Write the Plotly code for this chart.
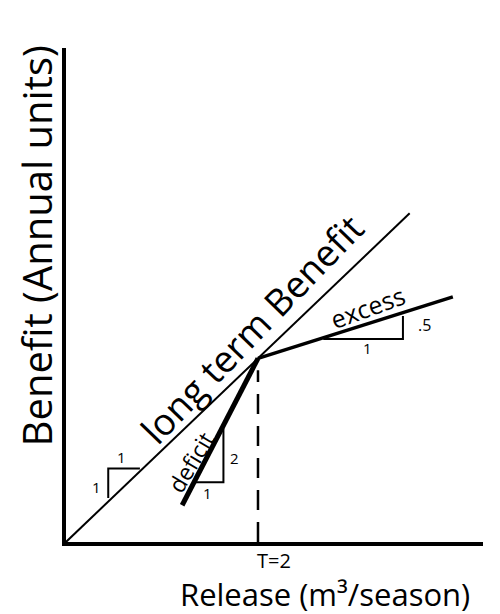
import plotly.graph_objects as go

# ---- data ----
T_value = 2
release_long = [0, 3.58]
benefit_long = [0, 3.58]
release_deficit = [1.21, 2]
benefit_deficit = [0.40, 2]
release_excess = [2, 4.03]
benefit_excess = [2, 2.67]
release_target = [2, 2]
benefit_target = [0, 1.87]

tri_long_x = [0.44, 0.44, 0.77]
tri_long_y = [0.48, 0.80, 0.80]
tri_def_x = [1.34, 1.64, 1.64]
tri_def_y = [0.65, 0.65, 1.24]
tri_exc_x = [2.68, 3.51, 3.51]
tri_exc_y = [2.21, 2.21, 2.46]

tick_vals = [T_value]
tick_text = ["T=2"]

x_title = "Release (m³/season)"
y_title = "Benefit (Annual units)"

FONT = "Open Sans"
BLACK = "black"

fig = go.Figure()

def line(x, y, w, dash="solid"):
    fig.add_trace(go.Scatter(x=x, y=y, mode="lines",
                             line=dict(color=BLACK, width=w, dash=dash),
                             showlegend=False, hoverinfo="skip"))

line(release_long, benefit_long, 2)
line(release_deficit, benefit_deficit, 5)
line(release_excess, benefit_excess, 3.5)
line(release_target, benefit_target, 2.5, dash="20px,12px")
line(tri_long_x, tri_long_y, 2)
line(tri_def_x, tri_def_y, 2)
line(tri_exc_x, tri_exc_y, 2)

def ann(x, y, text, size, angle=0, xref="x", yref="y"):
    fig.add_annotation(x=x, y=y, text=text, showarrow=False, textangle=angle,
                       xref=xref, yref=yref,
                       xanchor="center", yanchor="middle",
                       font=dict(family=FONT, size=size, color=BLACK))

ann(1.93, 2.33, "long term Benefit", 37, -46)
ann(1.30, 0.87, "deficit", 23, -59)
ann(3.14, 2.56, "excess", 25, -20)
ann(0.32, 0.60, "1", 15)
ann(0.58, 0.93, "1", 15)
ann(1.76, 0.92, "2", 15)
ann(1.47, 0.53, "1", 15)
ann(3.14, 2.11, "1", 15)
ann(3.73, 2.36, ".5", 16)

# axis titles placed as in the sketch (offset from axis centres)
ann(0.62, -0.106, x_title, 31, 0, "paper", "paper")
ann(-0.07, 0.60, y_title, 40, -90, "paper", "paper")

# the page adds an 8px body margin, so the figure is 8px smaller than the window
fig.update_layout(
    width=492, height=606,
    margin=dict(l=58, r=17, t=40, b=72, autoexpand=False),
    paper_bgcolor="white", plot_bgcolor="white",
    font=dict(family=FONT, color=BLACK),
    xaxis=dict(range=[0, 4.344], showgrid=False, zeroline=False,
               automargin=False,
               showline=True, linecolor=BLACK, linewidth=3.5,
               tickvals=tick_vals, ticktext=tick_text, ticks="",
               tickfont=dict(size=20, family=FONT, color=BLACK),
               ticklabelshift=16, ticklabelstandoff=-2),
    yaxis=dict(range=[0, 5.38], showgrid=False, zeroline=False,
               automargin=False,
               showline=True, linecolor=BLACK, linewidth=3.5,
               showticklabels=False, ticks=""),
)

fig.write_html("out.html")
